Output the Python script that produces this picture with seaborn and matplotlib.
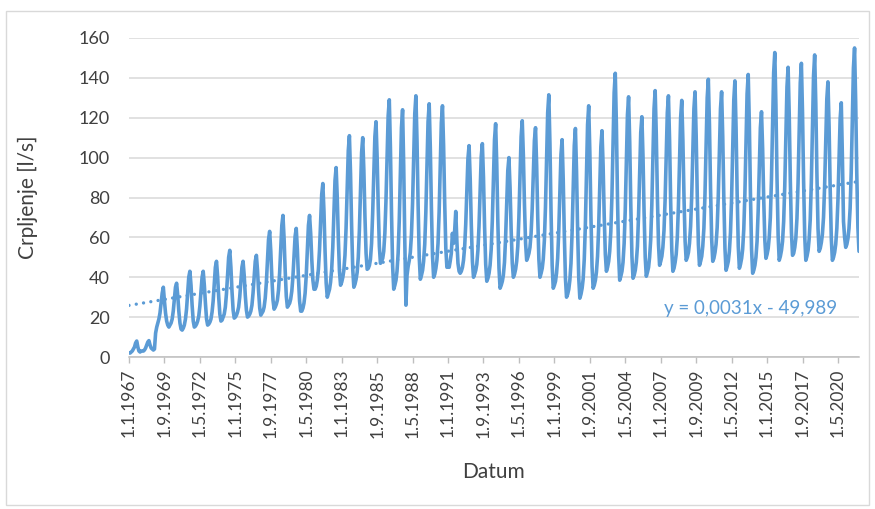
import numpy as np
import pandas as pd
import matplotlib
matplotlib.use("Agg")
import matplotlib.pyplot as plt
from matplotlib.patches import Rectangle
import seaborn as sns

# Monthly pumping rate [l/s], one row per year (Jan..Dec)
flow_1967_1976 = [
    2, 2, 2.5, 3, 4, 5, 7, 8, 5, 3, 2.5, 3,
    3, 3, 3.5, 4.5, 6, 7.5, 8.2, 6, 4.5, 4, 3.5, 4,
    12, 15, 17, 19, 22, 27, 32, 35, 28, 22, 18, 16,
    15, 16, 17, 19, 23, 29, 35, 37, 31, 23, 17, 14,
    13.5, 14.5, 16, 19, 24, 32.5, 40, 43, 36, 26, 18, 15,
    15.5, 16.5, 18, 20.5, 25.5, 33, 40, 43, 36, 27, 19, 16,
    16.5, 17.5, 19, 22.5, 28, 37, 45, 48, 40.5, 30, 21.5, 18,
    18.5, 20, 21.5, 25, 31.5, 41, 50, 53.5, 45, 33, 23.5, 19.5,
    20, 21, 22.5, 25, 30, 38, 45, 48, 41, 31, 23.5, 20,
    20.5, 21.5, 23, 26, 32, 40, 48, 51, 43.5, 33, 24.5, 21,
]
flow_1977_1986 = [
    22, 23, 25, 29.5, 37, 48, 59, 63, 53, 39.5, 28.5, 24,
    25, 26.5, 28.5, 33.5, 42, 54.5, 66, 71, 59.5, 43.5, 30.5, 25,
    26, 27, 29, 33, 40, 50.5, 60.5, 64.5, 54, 39.5, 28, 23,
    23, 24.5, 27, 32, 40.5, 54, 66, 71, 62, 49, 38.5, 34,
    34, 35.5, 38.5, 44, 53.5, 68, 81.5, 87, 73, 53, 37, 30,
    32, 34, 37.5, 44, 55, 72.5, 88.5, 95, 80, 59.5, 43, 36,
    37.5, 40, 43.5, 51, 64.5, 85, 103.5, 111, 92, 65.5, 44, 35,
    36.5, 39, 42.5, 50, 63.5, 84, 102.5, 110, 93.5, 70.5, 52, 44,
    44.5, 46, 49, 57, 72, 92, 110.5, 118, 100, 75.5, 55.5, 47,
    48, 49.5, 53, 62, 78, 100, 121, 129, 105, 72, 45.5, 34,
]
flow_1987_1996 = [
    36, 38.5, 43, 52, 68, 92.5, 115, 124, 96, 58, 26, 41,
    45.5, 48.5, 52.5, 61.5, 77, 100.5, 122, 131, 108, 76, 50, 39,
    41, 43.5, 48, 56.5, 72.5, 96, 118, 127, 105, 75, 50.5, 40,
    41.5, 44.5, 48.5, 57, 72.5, 96, 117.5, 126, 106, 77.5, 54.5, 45,
    47, 45, 48, 52, 62, 57, 63, 73, 58, 47, 43, 42,
    43, 45, 48.5, 55, 66.5, 83.5, 99.5, 106, 89.5, 66.5, 48, 40,
    41.5, 43.5, 46.5, 53.5, 65.5, 83.5, 100.5, 107, 90, 65.5, 46.5, 38,
    39.5, 42, 46, 54, 68, 89.5, 109, 117, 96.5, 67.5, 44.5, 34.5,
    36, 38, 41, 47.5, 59.5, 77, 93.5, 100, 85, 64, 47, 40,
    41.5, 44, 48, 55.5, 70, 91, 110.5, 118.5, 101, 76.5, 57, 48.5,
]
flow_1997_2006 = [
    50, 52, 55, 62, 74, 91.5, 108.5, 115, 96, 70, 49, 40,
    42, 44.5, 49, 58.5, 75, 99.5, 122.5, 131.5, 107, 73, 46, 34.5,
    36, 38, 42, 49.5, 63, 83, 101.5, 109, 89, 61.5, 39.5, 30,
    31.5, 34, 38.5, 47, 62, 85, 106, 114.6, 93, 63.5, 39.5, 29.5,
    31.5, 34.5, 39, 49, 66, 92, 116.5, 126, 103, 71, 45.5, 34.5,
    36, 38.5, 42.5, 50.5, 64.5, 86, 105.5, 113.5, 96, 71, 51.5, 43,
    45, 48, 53, 63, 80.5, 107.5, 132.5, 142.3, 116.5, 80, 51, 38.5,
    40.5, 43, 47.5, 57, 73.5, 98.5, 121.5, 130.5, 108, 76, 50.5, 39.5,
    41, 43.5, 47.5, 55.5, 70.5, 92, 112.5, 120.5, 100.5, 72.5, 50, 40.5,
    42.5, 45, 50, 59, 76, 101, 124.5, 133.6, 111.5, 81, 56.5, 46,
]
flow_2007_2016 = [
    48, 50.5, 55, 63.5, 78.5, 101.5, 122.5, 131, 109, 78, 53.5, 43,
    44.5, 47.5, 51.5, 60, 75.5, 98.5, 120, 128.7, 108.5, 80.5, 58, 48.5,
    50, 52.5, 57, 65.5, 80.5, 103.5, 124.5, 133, 111, 81, 56.5, 46,
    48, 50.5, 55.5, 64.5, 81.5, 106.5, 130, 139.3, 116.5, 84.5, 59, 48,
    49.5, 52.5, 56.5, 65, 80.5, 103, 124.5, 133, 110.5, 79.5, 54.5, 43.5,
    45.5, 48, 53, 62.5, 79.5, 105.5, 129, 138.5, 115, 82, 55.5, 44.5,
    46.5, 49.5, 54, 64, 81.5, 107.5, 132, 141.7, 117, 82, 54, 42,
    43.5, 46, 50, 58, 73, 94.5, 115, 123, 104.5, 79, 58.5, 49.5,
    51.5, 54.5, 60, 70, 88.5, 116.5, 142.5, 152.7, 126.5, 90, 61, 48.5,
    50.5, 53.5, 58, 68, 85.5, 111.5, 135.5, 145.3, 121.5, 88.5, 62.5, 51,
]
flow_2017_2021 = [
    52, 55, 59.5, 69.5, 87, 113, 137.5, 147.3, 122.5, 88, 60.5, 48.5,
    50.5, 53.5, 59, 69, 87.5, 115.5, 141, 151.5, 127, 92.5, 64.5, 53,
    54.5, 57.5, 61.5, 70, 85.5, 108, 129.5, 138, 115.5, 84.5, 59.5, 48.5,
    50, 52.5, 56.5, 64.5, 78.5, 100, 119.5, 127.5, 100, 68, 60, 55,
    56.5, 59.5, 64.5, 74.5, 92.5, 120, 145, 155, 128, 92, 65, 53,
]

tick_labels = ["1.1.1967", "1.9.1969", "1.5.1972", "1.1.1975", "1.9.1977",
               "1.5.1980", "1.1.1983", "1.9.1985", "1.5.1988", "1.1.1991",
               "1.9.1993", "1.5.1996", "1.1.1999", "1.9.2001", "1.5.2004",
               "1.1.2007", "1.9.2009", "1.5.2012", "1.1.2015", "1.9.2017",
               "1.5.2020"]

# Linear trend (Excel serial date as x)
trend_slope = 0.0031
trend_intercept = -49.989
trend_label = "y = 0,0031x - 49,989"

flow = (flow_1967_1976 + flow_1977_1986 + flow_1987_1996
        + flow_1997_2006 + flow_2007_2016 + flow_2017_2021)
dates = pd.date_range("1967-01-01", periods=len(flow), freq="MS")
df = pd.DataFrame({"Datum": dates, "Crpljenje": flow})

serial = (df["Datum"] - pd.Timestamp("1899-12-30")).dt.days.to_numpy()
df["trend"] = trend_slope * serial + trend_intercept

sns.set_theme(style="white")
plt.rcParams["font.family"] = ["Lato", "DejaVu Sans"]

blue = "#5B9BD5"
text_col = "#404040"
grid_col = "#D9D9D9"

W, H = 875, 509
fig = plt.figure(figsize=(W / 100, H / 100), dpi=100)
ax = fig.add_axes([129 / W, (H - 357) / H, 730 / W, 319 / H])

sns.lineplot(data=df, x="Datum", y="Crpljenje", color=blue, linewidth=2.6,
             ax=ax, solid_joinstyle="round", solid_capstyle="round", zorder=3)
ax.plot(df["Datum"], df["trend"], color=blue, linewidth=2.4,
        linestyle=(0, (0.01, 2.2)), dash_capstyle="round", zorder=4)

ax.set_xlim(dates[0], dates[-1])
ax.set_ylim(0, 160)
ax.set_yticks(np.arange(0, 161, 20))
ax.yaxis.grid(True, color=grid_col, linewidth=1.1)
ax.set_axisbelow(True)

tick_dates = [pd.to_datetime(t, format="%d.%m.%Y") for t in tick_labels]
ax.set_xticks(tick_dates)
ax.set_xticklabels(tick_labels, rotation=90, va="top", ha="center")

for s in ["left", "right", "top"]:
    ax.spines[s].set_visible(False)
ax.spines["bottom"].set_color("#BFBFBF")
ax.spines["bottom"].set_linewidth(1.1)

ax.tick_params(axis="x", which="major", bottom=True, length=4.5, width=1.0,
               color="#BFBFBF", pad=4, labelsize=12.5, labelcolor=text_col)
ax.tick_params(axis="y", left=False, length=0, pad=14, labelsize=13,
               labelcolor=text_col)

ax.set_xlabel("Datum", fontsize=15, color=text_col)
ax.set_ylabel("Crpljenje [l/s]", fontsize=15, color=text_col)
ax.xaxis.set_label_coords(0.5, -0.33)
ax.yaxis.set_label_coords(-0.125, 0.5)

ax.text(0.852, 0.152, trend_label, transform=ax.transAxes, color=blue,
        fontsize=13.5, ha="center", va="center")

# chart area frame
fig.patches.append(Rectangle((6 / W, 4 / H), 863 / W, 494 / H,
                             transform=fig.transFigure, fill=False,
                             edgecolor=grid_col, linewidth=1.0))

fig.savefig("out.png", dpi=100)
